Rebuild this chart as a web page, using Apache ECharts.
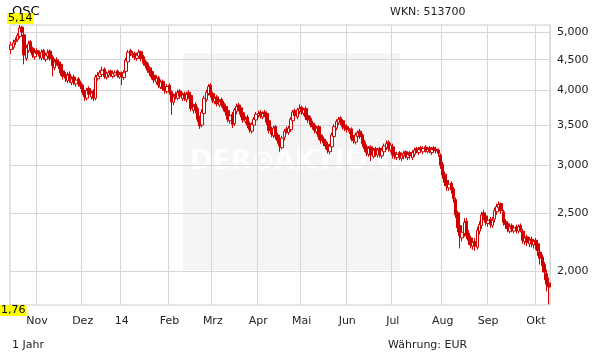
<!DOCTYPE html>
<html><head><meta charset="utf-8">
<script src="https://cdn.jsdelivr.net/npm/echarts@6/dist/echarts.min.js"></script>
<style>html,body{margin:0;padding:0;background:#fff}#c{width:611px;height:364px}</style>
</head><body><div id="c"></div>
<script>
// trading calendar (Xetra), 16 Oct 2013 .. 9 Oct 2014
const firstDay = [2013, 9, 16];
const lastDay = [2014, 9, 9];
const holidays = ['2013-12-24','2013-12-25','2013-12-26','2013-12-31','2014-01-01','2014-04-18','2014-04-21','2014-05-01'];
const monthLabels = ['14','Feb','Mrz','Apr','Mai','Jun','Jul','Aug','Sep','Okt','Nov','Dez'];
const yTicks = [2, 2.5, 3, 3.5, 4, 4.5, 5];

const opens = [4.68,4.72,4.85,4.86,4.92,5.10,4.95,4.52,4.66,4.82,
4.70,4.55,4.66,4.62,4.53,4.66,4.50,4.56,4.65,4.55,
4.36,4.50,4.46,4.42,4.31,4.25,4.15,4.26,4.12,4.21,
4.10,4.18,4.12,4.08,3.98,3.88,4.03,3.90,3.99,3.88,
4.18,4.22,4.25,4.34,4.20,4.24,4.31,4.22,4.24,4.31,
4.21,4.28,4.20,4.30,4.46,4.66,4.60,4.61,4.52,4.56,
4.64,4.55,4.47,4.43,4.36,4.30,4.24,4.13,4.20,4.05,
4.14,4.06,3.98,4.08,3.98,3.82,3.94,3.88,3.99,3.88,
3.95,3.86,3.97,3.92,3.70,3.79,3.73,3.60,3.50,3.66,
3.86,3.95,4.08,3.95,3.83,3.90,3.78,3.86,3.81,3.76,
3.70,3.56,3.65,3.52,3.69,3.78,3.74,3.67,3.55,3.61,
3.52,3.42,3.50,3.57,3.63,3.68,3.61,3.68,3.66,3.56,
3.45,3.36,3.48,3.37,3.32,3.21,3.34,3.45,3.40,3.44,
3.56,3.70,3.61,3.69,3.75,3.66,3.73,3.63,3.59,3.53,
3.50,3.41,3.48,3.37,3.32,3.29,3.25,3.16,3.22,3.35,
3.46,3.53,3.60,3.56,3.50,3.48,3.41,3.45,3.34,3.28,
3.35,3.42,3.37,3.28,3.22,3.13,3.22,3.10,3.20,3.12,
3.20,3.11,3.16,3.21,3.28,3.18,3.22,3.15,3.09,3.15,
3.08,3.11,3.16,3.09,3.15,3.09,3.13,3.20,3.15,3.21,
3.16,3.22,3.16,3.21,3.15,3.21,3.19,3.18,3.12,3.01,
2.90,2.83,2.75,2.80,2.74,2.63,2.50,2.38,2.27,2.31,
2.42,2.31,2.27,2.20,2.24,2.19,2.33,2.38,2.50,2.47,
2.40,2.44,2.38,2.44,2.51,2.55,2.59,2.51,2.42,2.40,
2.33,2.38,2.33,2.37,2.33,2.38,2.33,2.24,2.28,2.22,
2.26,2.21,2.25,2.22,2.15,2.11,2.05,1.98,1.91];

const closes = [4.76,4.80,4.82,4.94,5.08,5.00,4.58,4.71,4.78,4.67,
4.58,4.63,4.60,4.56,4.63,4.54,4.58,4.62,4.52,4.40,
4.46,4.44,4.39,4.28,4.22,4.19,4.24,4.16,4.18,4.13,
4.16,4.10,4.06,3.97,3.90,4.00,3.94,3.96,3.88,4.21,
4.24,4.28,4.32,4.22,4.27,4.28,4.25,4.27,4.28,4.24,
4.25,4.22,4.28,4.49,4.63,4.62,4.58,4.54,4.58,4.63,
4.52,4.44,4.40,4.32,4.28,4.21,4.16,4.19,4.08,4.13,
4.03,4.00,4.06,3.97,3.83,3.90,3.91,3.97,3.91,3.93,
3.88,3.94,3.91,3.73,3.76,3.71,3.58,3.49,3.68,3.88,
3.97,4.06,3.93,3.85,3.88,3.80,3.83,3.79,3.73,3.68,
3.58,3.63,3.51,3.71,3.76,3.73,3.65,3.57,3.58,3.50,
3.44,3.51,3.58,3.65,3.66,3.63,3.66,3.65,3.54,3.43,
3.38,3.46,3.35,3.30,3.23,3.33,3.42,3.43,3.46,3.58,
3.68,3.63,3.71,3.73,3.68,3.71,3.61,3.57,3.51,3.48,
3.43,3.46,3.35,3.30,3.27,3.23,3.18,3.23,3.37,3.48,
3.55,3.58,3.54,3.48,3.46,3.44,3.43,3.32,3.30,3.37,
3.40,3.35,3.26,3.20,3.15,3.20,3.12,3.18,3.14,3.18,
3.13,3.18,3.23,3.26,3.20,3.24,3.12,3.11,3.13,3.10,
3.12,3.14,3.11,3.13,3.11,3.15,3.18,3.17,3.19,3.18,
3.20,3.18,3.19,3.17,3.19,3.18,3.17,3.14,3.00,2.89,
2.81,2.77,2.79,2.73,2.64,2.48,2.36,2.29,2.32,2.41,
2.29,2.25,2.21,2.23,2.20,2.34,2.39,2.48,2.46,2.41,
2.43,2.39,2.43,2.52,2.56,2.58,2.52,2.41,2.39,2.35,
2.37,2.35,2.36,2.34,2.37,2.34,2.25,2.27,2.23,2.25,
2.22,2.24,2.21,2.16,2.10,2.04,1.99,1.90,1.88];

const highs = [4.82,4.86,4.90,4.98,5.14,5.12,5.00,4.76,4.84,4.85,
4.73,4.68,4.70,4.66,4.68,4.69,4.62,4.68,4.68,4.58,
4.52,4.54,4.50,4.45,4.35,4.29,4.29,4.30,4.23,4.25,
4.20,4.21,4.15,4.10,4.01,4.04,4.06,4.00,4.02,4.25,
4.29,4.32,4.38,4.37,4.30,4.32,4.33,4.31,4.32,4.33,
4.29,4.30,4.32,4.53,4.67,4.69,4.65,4.64,4.62,4.68,
4.66,4.58,4.50,4.46,4.39,4.33,4.27,4.24,4.23,4.17,
4.17,4.09,4.10,4.11,4.00,3.95,3.98,4.01,4.02,3.97,
3.98,3.98,4.00,3.95,3.80,3.82,3.76,3.63,3.72,3.92,
4.01,4.10,4.11,3.98,3.92,3.93,3.87,3.89,3.84,3.79,
3.72,3.67,3.68,3.74,3.80,3.81,3.77,3.70,3.62,3.64,
3.55,3.54,3.61,3.68,3.70,3.71,3.69,3.71,3.69,3.58,
3.48,3.49,3.50,3.40,3.35,3.36,3.45,3.48,3.49,3.61,
3.71,3.73,3.74,3.79,3.77,3.74,3.76,3.66,3.62,3.56,
3.53,3.49,3.50,3.40,3.35,3.32,3.28,3.26,3.40,3.51,
3.58,3.61,3.62,3.58,3.53,3.51,3.46,3.47,3.37,3.40,
3.43,3.45,3.39,3.31,3.25,3.23,3.24,3.21,3.22,3.21,
3.22,3.21,3.26,3.30,3.30,3.27,3.26,3.17,3.16,3.17,
3.15,3.17,3.18,3.16,3.17,3.18,3.21,3.22,3.22,3.23,
3.23,3.24,3.22,3.23,3.22,3.23,3.22,3.20,3.14,3.04,
2.93,2.86,2.83,2.82,2.76,2.65,2.52,2.40,2.36,2.45,
2.45,2.34,2.29,2.26,2.27,2.37,2.42,2.51,2.53,2.49,
2.46,2.46,2.46,2.55,2.59,2.61,2.60,2.53,2.44,2.42,
2.40,2.40,2.38,2.39,2.39,2.40,2.35,2.30,2.30,2.28,
2.28,2.26,2.27,2.24,2.18,2.13,2.07,2.01,1.95];

const lows = [4.60,4.68,4.76,4.82,4.88,4.94,4.42,4.48,4.62,4.62,
4.53,4.50,4.56,4.51,4.49,4.50,4.46,4.52,4.48,4.22,
4.32,4.40,4.34,4.23,4.17,4.13,4.11,4.12,4.08,4.08,
4.06,4.06,4.02,3.93,3.84,3.85,3.90,3.86,3.84,3.85,
4.15,4.18,4.21,4.18,4.17,4.20,4.21,4.19,4.21,4.20,
4.18,4.08,4.16,4.27,4.42,4.56,4.53,4.49,4.48,4.52,
4.47,4.40,4.35,4.28,4.23,4.17,4.11,4.09,4.03,4.02,
3.99,3.95,3.95,3.93,3.64,3.78,3.86,3.85,3.87,3.84,
3.84,3.82,3.87,3.69,3.66,3.66,3.54,3.45,3.47,3.63,
3.83,3.92,3.89,3.81,3.79,3.76,3.75,3.75,3.69,3.63,
3.54,3.52,3.46,3.49,3.65,3.69,3.61,3.53,3.52,3.46,
3.40,3.39,3.47,3.54,3.60,3.59,3.58,3.61,3.50,3.39,
3.34,3.33,3.31,3.26,3.16,3.19,3.30,3.39,3.37,3.41,
3.53,3.59,3.58,3.65,3.64,3.63,3.57,3.53,3.47,3.44,
3.39,3.38,3.31,3.26,3.23,3.19,3.14,3.13,3.19,3.32,
3.43,3.50,3.50,3.44,3.42,3.40,3.38,3.29,3.26,3.25,
3.31,3.32,3.22,3.16,3.11,3.10,3.05,3.08,3.10,3.09,
3.09,3.08,3.13,3.18,3.16,3.15,3.08,3.07,3.06,3.06,
3.05,3.07,3.08,3.06,3.07,3.06,3.10,3.14,3.12,3.15,
3.13,3.15,3.14,3.14,3.12,3.15,3.14,3.10,2.96,2.85,
2.77,2.72,2.72,2.69,2.60,2.45,2.32,2.18,2.24,2.28,
2.26,2.21,2.18,2.17,2.16,2.17,2.30,2.35,2.43,2.38,
2.37,2.36,2.36,2.41,2.48,2.52,2.49,2.38,2.35,2.32,
2.31,2.32,2.31,2.31,2.31,2.32,2.22,2.21,2.20,2.19,
2.19,2.18,2.17,2.12,2.05,1.99,1.93,1.85,1.76];

// build trading day list
const dates = [];
(function () {
  let t = Date.UTC(firstDay[0], firstDay[1], firstDay[2]);
  const end = Date.UTC(lastDay[0], lastDay[1], lastDay[2]);
  while (t <= end) {
    const d = new Date(t);
    const wd = d.getUTCDay();
    const s = d.toISOString().slice(0, 10);
    if (wd !== 0 && wd !== 6 && holidays.indexOf(s) < 0) dates.push(s);
    t += 86400000;
  }
})();

const candles = dates.map((d, i) => [opens[i], closes[i], lows[i], highs[i]]);
const isMonthStart = (idx) => idx > 0 && dates[idx].slice(5, 7) !== dates[idx - 1].slice(5, 7);
const fmtComma = (v, n) => v.toFixed(n).replace('.', ',');
const maxVal = Math.max.apply(null, highs);
const minVal = Math.min.apply(null, lows);

const FONT = '"DejaVu Sans", Verdana, sans-serif';
const RED = '#d10000';
const GRIDC = '#d6d6d6';

const chart = echarts.init(document.getElementById('c'), null, { renderer: 'canvas' });
chart.setOption({
  animation: false,
  backgroundColor: '#fff',
  grid: { left: 10, right: 61, top: 25, bottom: 59, show: true, borderColor: '#cccccc', borderWidth: 1, containLabel: false },
  xAxis: {
    type: 'category', data: dates, boundaryGap: true,
    axisLine: { show: false }, axisTick: { show: false },
    axisLabel: {
      interval: (idx) => isMonthStart(idx),
      formatter: (v) => monthLabels[parseInt(v.slice(5, 7), 10) - 1],
      color: '#222', fontSize: 11, fontFamily: FONT, margin: 11
    },
    splitLine: { show: true, interval: (idx) => isMonthStart(idx), lineStyle: { color: GRIDC, width: 1 } }
  },
  yAxis: {
    type: 'log', logBase: 10, position: 'right', min: 1.755, max: 5.14,
    axisLine: { show: false },
    axisTick: { show: false, customValues: yTicks },
    axisLabel: { customValues: yTicks, formatter: (v) => fmtComma(v, 3), color: '#222', fontSize: 11, fontFamily: FONT, margin: 7 },
    splitLine: { show: true, lineStyle: { color: GRIDC, width: 1 } }
  },
  series: [{
    type: 'candlestick',
    data: candles,
    barWidth: 3,
    itemStyle: { color: '#ffffff', color0: RED, borderColor: RED, borderColor0: RED, borderWidth: 1 }
  }],
  graphic: [
    { type: 'rect', z: -10, left: 183, top: 53, shape: { width: 217, height: 217 }, style: { fill: '#f5f5f5' }, silent: true },
    { type: 'text', z: -9, left: 190, top: 148, style: { text: 'DER\u2299AKTIONÄR', font: 'bold 27px ' + FONT, fill: 'rgba(255,255,255,0.85)' }, silent: true },
    { type: 'text', left: 12, top: 5, style: { text: 'OSC', font: '13px ' + FONT, fill: '#000' } },
    { type: 'text', left: 390, top: 7, style: { text: 'WKN: 513700', font: '11px ' + FONT, fill: '#222' } },
    { type: 'text', left: 12, top: 340, style: { text: '1 Jahr', font: '11px ' + FONT, fill: '#222' } },
    { type: 'text', left: 388, top: 340, style: { text: 'Währung: EUR', font: '11px ' + FONT, fill: '#222' } },
    { type: 'text', z: 100, left: 7, top: 13, style: { text: fmtComma(maxVal, 2), font: '11px ' + FONT, fill: '#000', backgroundColor: '#ffff00', padding: [0, 1, 0, 1] } },
    { type: 'text', z: 100, left: 0, top: 305, style: { text: fmtComma(minVal, 2), font: '11px ' + FONT, fill: '#000', backgroundColor: '#ffff00', padding: [0, 1, 0, 1] } }
  ]
});
</script>
</body></html>
